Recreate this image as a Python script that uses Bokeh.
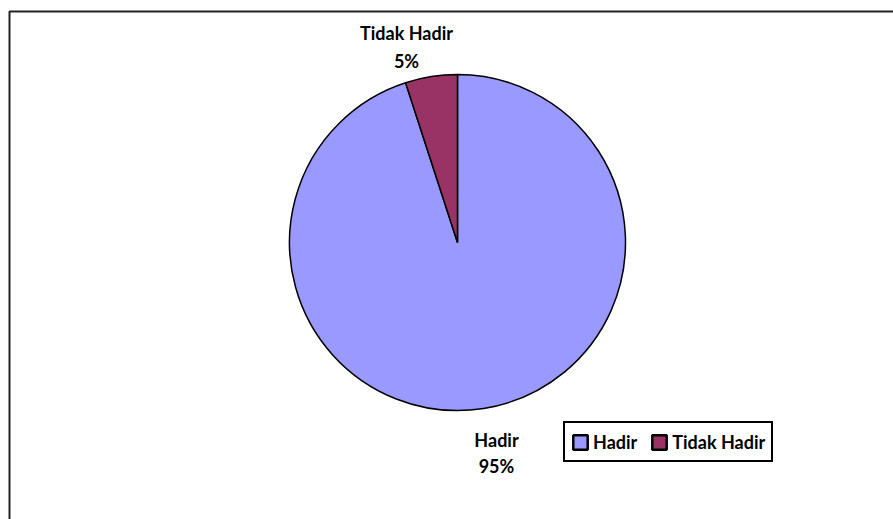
import math
from bokeh.plotting import figure
from bokeh.models import Range1d, ColumnDataSource, Legend, LegendItem
from bokeh.core.properties import value
from bokeh.embed import file_html
from bokeh.resources import INLINE

# ---- data ----
categories = ["Hadir", "Tidak Hadir"]
values = [95, 5]
pct_labels = ["95%", "5%"]
colors = ["#9999FF", "#993366"]

# ---- layout (screen pixels, y measured from top) ----
W, H = 893, 519
CX, CY, R = 457, 242, 168
name_pos = [(496, 439), (406, 32)]
pct_pos = [(496, 465), (406, 60.5)]
FONT = "Lato"
FS = "18px"

p = figure(width=W, height=H, x_range=Range1d(0, W), y_range=Range1d(0, H),
           output_backend="svg", toolbar_location=None, min_border=0)
p.axis.visible = False
p.grid.visible = False
p.outline_line_color = None
p.background_fill_color = "white"
p.border_fill_color = "white"

# chart border
p.quad(left=[9], right=[W + 10], top=[H - 11], bottom=[-10],
       fill_color=None, line_color="#222222", line_width=2)

# pie wedges (clockwise from 12 o'clock)
total = float(sum(values))
starts, ends = [], []
a = math.pi / 2
for v in values:
    starts.append(a)
    a -= v / total * 2 * math.pi
    ends.append(a)

src = ColumnDataSource(dict(cat=categories, val=values, color=colors,
                            start=starts, end=ends))
p.wedge(x=CX, y=H - CY, radius=R, start_angle="start", end_angle="end",
        direction="clock", fill_color="color", line_color="black",
        line_width=1.5, source=src)

# data labels
lsrc = ColumnDataSource(dict(
    name=categories, pct=pct_labels,
    nx=[q[0] for q in name_pos], ny=[H - q[1] for q in name_pos],
    px=[q[0] for q in pct_pos], py=[H - q[1] for q in pct_pos]))
p.text(x="nx", y="ny", text="name", source=lsrc, text_font=value(FONT),
       text_font_style="bold", text_font_size=FS, text_align="center",
       text_baseline="alphabetic", text_color="black")
p.text(x="px", y="py", text="pct", source=lsrc, text_font=value(FONT),
       text_font_style="bold", text_font_size=FS, text_align="center",
       text_baseline="alphabetic", text_color="black")

# legend with off-screen dummy renderers
items = []
for cat, col in zip(categories, colors):
    r = p.rect(x=[-500], y=[-500], width=1, height=1, fill_color=col,
               line_color="black", line_width=2.5)
    items.append(LegendItem(label=cat, renderers=[r]))

legend = Legend(items=items, orientation="horizontal", location=(563, 57),
                glyph_width=18, glyph_height=18, label_standoff=4,
                spacing=13, padding=6, label_height=25,
                label_text_font=FONT, label_text_font_style="bold",
                label_text_font_size=FS, label_text_color="black",
                border_line_color="black", border_line_width=2,
                border_line_alpha=1,
                background_fill_color="white", background_fill_alpha=1,
                margin=0)
p.add_layout(legend, "center")

open("out.html", "w").write(file_html(p, INLINE))
